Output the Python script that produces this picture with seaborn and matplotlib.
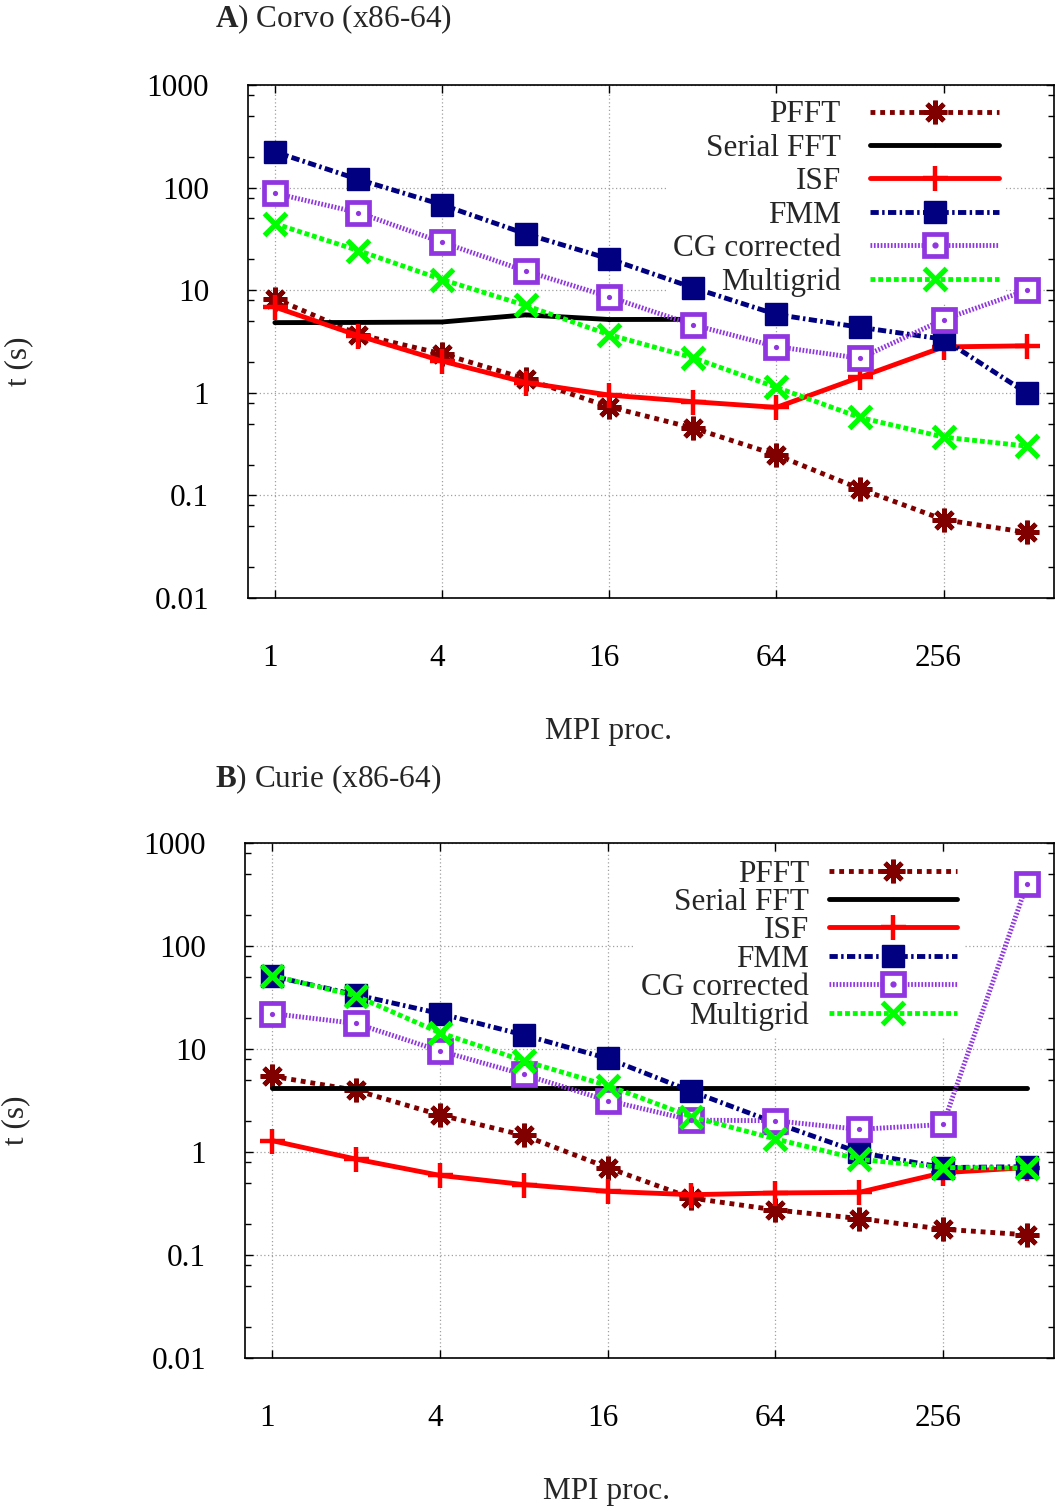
import matplotlib
matplotlib.use("Agg")
import matplotlib.pyplot as plt
import matplotlib.transforms as mtransforms
from matplotlib.legend_handler import HandlerTuple
from matplotlib.lines import Line2D
from matplotlib.ticker import FixedLocator, LogLocator, NullFormatter
import numpy as np
import pandas as pd
import seaborn as sns

procs = [1, 2, 4, 8, 16, 32, 64, 128, 256, 512]
xtick_vals = [1, 4, 16, 64, 256]
ytick_vals = [0.01, 0.1, 1, 10, 100, 1000]
ytick_labels = ["0.01", "0.1", "1", "10", "100", "1000"]
methods = ["PFFT", "Serial FFT", "ISF", "FMM", "CG corrected", "Multigrid"]

# A) Corvo
corvo_pfft = [8.3, 3.7, 2.4, 1.37, 0.73, 0.455, 0.248, 0.116, 0.058, 0.0435]
corvo_serial_procs = [1, 2, 4, 8, 16, 32]
corvo_serial = [4.83, 4.85, 4.9, 5.75, 5.18, 5.2]
corvo_isf = [6.85, 3.6, 2.04, 1.26, 0.95, 0.82, 0.72, 1.42, 2.8, 2.87]
corvo_fmm = [223, 120, 68, 35.4, 20.2, 10.6, 5.8, 4.35, 3.33, 0.99]
corvo_cg = [88, 57, 29.3, 15.4, 8.6, 4.6, 2.82, 2.17, 5.18, 10.0]
corvo_mg = [44.5, 24.3, 12.7, 7.1, 3.68, 2.2, 1.13, 0.575, 0.37, 0.302]

# B) Curie
curie_pfft = [5.45, 3.97, 2.29, 1.45, 0.706, 0.357, 0.274, 0.226, 0.178, 0.157]
curie_serial_procs = procs
curie_serial = [4.19] * 10
curie_isf = [1.29, 0.853, 0.593, 0.483, 0.415, 0.385, 0.4, 0.406, 0.63, 0.706]
curie_fmm = [51, 33.6, 22.1, 13.7, 8.1, 3.88, 1.92, 0.99, 0.706, 0.72]
curie_cg = [22.1, 17.7, 9.6, 5.66, 3.16, 2.04, 2.01, 1.66, 1.85, 400]
curie_mg = [51.7, 32.8, 14.4, 7.67, 4.42, 2.2, 1.34, 0.85, 0.706, 0.7]

styles = {
    "PFFT": dict(color="#800000", linestyle=(0, (1.0, 1.0)), marker=(8, 2, 0),
                 markersize=17, markeredgewidth=3.4),
    "Serial FFT": dict(color="black", linestyle="-", marker="o",
                       markersize=2, markeredgewidth=0.5),
    "ISF": dict(color="#ff0000", linestyle="-", marker="+",
                markersize=18, markeredgewidth=3.2),
    "FMM": dict(color="#000080", linestyle=(0, (1.7, 0.7, 0.5, 0.7)), marker="s",
                markersize=15.5, markeredgewidth=1),
    "CG corrected": dict(color="#9035e0", linestyle=(0, (0.35, 0.35)), marker="s",
                         markersize=16, markeredgewidth=3.4, markerfacecolor="white"),
    "Multigrid": dict(color="#00ff00", linestyle=(0, (1.0, 0.6)), marker="x",
                      markersize=16, markeredgewidth=3.8),
}

plt.rcParams.update({"figure.dpi": 100})
sns.set_style("ticks")
plt.rcParams["font.family"] = ["Liberation Serif", "DejaVu Serif"]
plt.rcParams["mathtext.fontset"] = "custom"
plt.rcParams["mathtext.rm"] = "Liberation Serif"
plt.rcParams["mathtext.bf"] = "Liberation Serif:bold"
plt.rcParams["font.size"] = 22


def draw_panel(fig, ax, series, legend_anchor, labelspacing, textpad):
    handles = []
    for name in methods:
        xs, ys = series[name]
        st = dict(styles[name])
        color = st.pop("color")
        sns.lineplot(x=xs, y=ys, ax=ax, color=color, linewidth=3.5,
                     markeredgecolor=color, errorbar=None, sort=False, **st)
        h = ax.lines[-1]
        if name == "CG corrected":
            sns.scatterplot(x=xs, y=ys, ax=ax, color=color, s=14,
                            linewidth=0, zorder=5)
            dot = Line2D([], [], color=color, marker="o", markersize=3.5,
                         linestyle="none")
            handles.append((h, dot))
        else:
            handles.append(h)
    ax.set_xscale("log", base=2)
    ax.set_yscale("log")
    ax.set_xlim(0.8, 640)
    ax.set_ylim(0.01, 1000)
    ax.xaxis.set_major_locator(FixedLocator(xtick_vals))
    ax.set_xticklabels([str(v) for v in xtick_vals])
    ax.xaxis.set_minor_locator(FixedLocator([]))
    ax.yaxis.set_major_locator(FixedLocator(ytick_vals))
    ax.set_yticklabels(ytick_labels)
    ax.yaxis.set_minor_locator(LogLocator(base=10, subs=(2, 5, 8)))
    ax.yaxis.set_minor_formatter(NullFormatter())
    ax.tick_params(which="both", direction="in", top=True, right=True,
                   width=1, colors="black", labelsize=22.5)
    ax.tick_params(which="major", length=6)
    ax.tick_params(which="minor", length=4)
    ax.tick_params(axis="x", pad=33)
    ax.tick_params(axis="y", pad=28)
    # gnuplot puts the x labels a few pixels left of the ticks
    shift = mtransforms.ScaledTranslation(-5 / 100, 0, fig.dpi_scale_trans)
    for lab in ax.get_xticklabels():
        lab.set_transform(lab.get_transform() + shift)
    ax.grid(True, which="major", color="#a0a0a0", linestyle=(0, (1, 2)),
            linewidth=0.9)
    ax.set_axisbelow(True)
    for sp in ax.spines.values():
        sp.set_linewidth(1.2)
        sp.set_color("black")
    ax.set_xlabel("MPI proc.", fontsize=22.5)
    ax.set_ylabel("t (s)", fontsize=22.5)
    ax.xaxis.set_label_coords(0.447, -0.232)
    ax.yaxis.set_label_coords(-0.266, 0.462)
    leg = ax.legend(handles, methods, loc="upper right",
                    bbox_to_anchor=legend_anchor, markerfirst=False,
                    frameon=True, framealpha=1, edgecolor="none",
                    facecolor="white", fancybox=False, borderpad=0.2,
                    borderaxespad=0, handlelength=4.1, handletextpad=textpad,
                    labelspacing=labelspacing, fontsize=22.5,
                    handler_map={tuple: HandlerTuple(ndivide=1)})
    leg.set_zorder(1.5)


fig = plt.figure(figsize=(10.56, 15.08))
W, H = 1056.0, 1508.0
axA = fig.add_axes([248 / W, 1 - 598 / H, (1054 - 248) / W, (598 - 85) / H])
axB = fig.add_axes([245 / W, 1 - 1358 / H, (1054 - 245) / W, (1358 - 843) / H])

corvo = {
    "PFFT": (procs, corvo_pfft),
    "Serial FFT": (corvo_serial_procs, corvo_serial),
    "ISF": (procs, corvo_isf),
    "FMM": (procs, corvo_fmm),
    "CG corrected": (procs, corvo_cg),
    "Multigrid": (procs, corvo_mg),
}
curie = {
    "PFFT": (procs, curie_pfft),
    "Serial FFT": (curie_serial_procs, curie_serial),
    "ISF": (procs, curie_isf),
    "FMM": (procs, curie_fmm),
    "CG corrected": (procs, curie_cg),
    "Multigrid": (procs, curie_mg),
}

draw_panel(fig, axA, corvo, (0.939, 0.982), 0.14, 0.95)
draw_panel(fig, axB, curie, (0.8875, 0.980), -0.02, 0.62)

fig.text(215 / W, 1 - 19 / H, r"$\mathbf{A}$) Corvo (x86-64)", ha="left",
         va="center", fontsize=22.5)
fig.text(215 / W, 1 - 779 / H, r"$\mathbf{B}$) Curie (x86-64)", ha="left",
         va="center", fontsize=22.5)

fig.savefig("out.png", dpi=100)
